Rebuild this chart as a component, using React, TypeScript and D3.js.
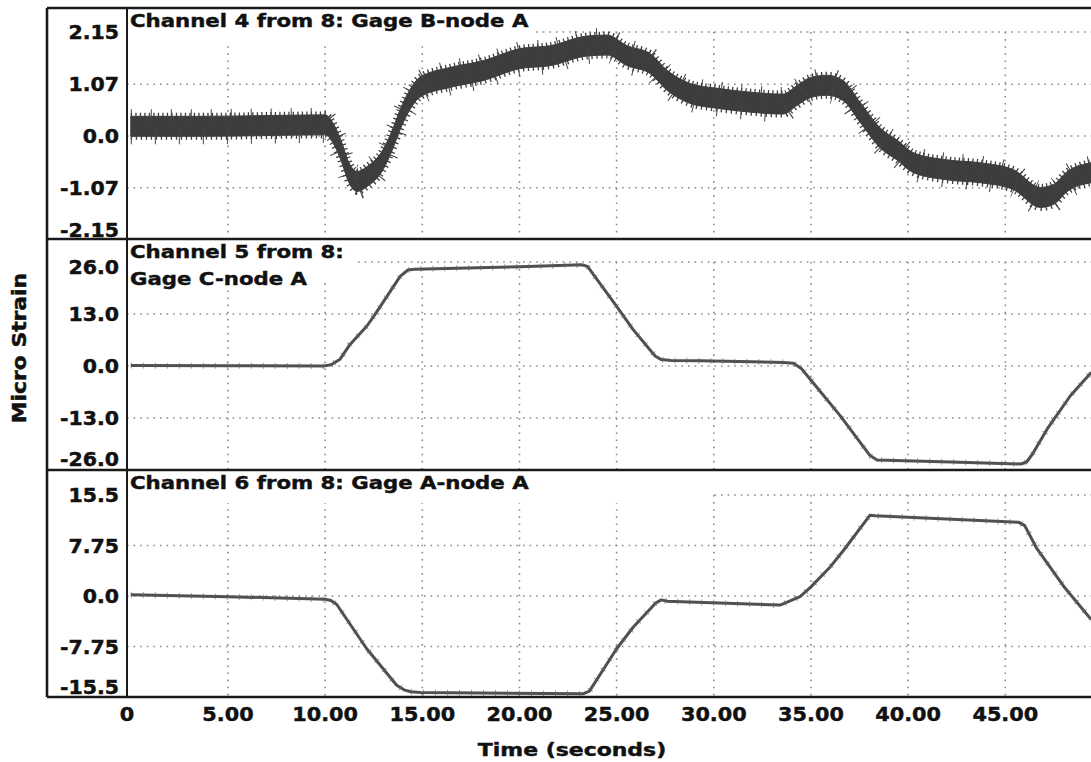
import React from 'react';
import * as d3 from 'd3';

// ---------- data ----------
const timeTicks = [0, 5, 10, 15, 20, 25, 30, 35, 40, 45];
const timeTickLabels = ['0', '5.00', '10.00', '15.00', '20.00', '25.00', '30.00', '35.00', '40.00', '45.00'];

// Channel 4 (Gage B-node A) – centre of the noisy band
const ch4Time = [0, 3.56, 7.68, 10.0, 10.41, 10.77, 11.28, 11.64, 12.15, 12.98, 13.44, 13.85, 14.36, 14.88, 16.42, 18.12, 20.03, 21.57, 23.48, 24.51, 25.54, 26.72, 27.6, 28.78, 30.17, 31.87, 33.57, 34.29, 34.96, 35.83, 36.65, 37.53, 38.56, 39.43, 40.26, 42.0, 43.71, 45.41, 46.8, 47.47, 48.19, 49.42];
const ch4Value = [0.2, 0.2, 0.22, 0.23, 0.06, -0.25, -0.8, -0.94, -0.84, -0.49, -0.1, 0.33, 0.75, 1.01, 1.21, 1.35, 1.6, 1.66, 1.86, 1.88, 1.66, 1.5, 1.15, 0.88, 0.78, 0.7, 0.66, 0.84, 1.0, 1.05, 0.94, 0.49, -0.04, -0.29, -0.55, -0.7, -0.76, -0.9, -1.27, -1.21, -0.94, -0.76];

// Channel 5 (Gage C-node A)
const ch5Time = [0, 5, 9.9, 10.3, 10.77, 11.28, 12.15, 12.57, 13.86, 14.26, 14.6, 20.03, 23.2, 23.5, 25.0, 25.85, 26.98, 27.3, 27.8, 29.3, 33.6, 34.1, 34.5, 34.96, 36.5, 38.04, 38.4, 42.2, 45.8, 46.1, 46.4, 47.15, 48.34, 49.42];
const ch5Value = [0.1, 0.05, 0.0, 0.3, 1.7, 5.4, 10.0, 12.9, 22.4, 24.0, 24.2, 24.8, 25.3, 24.9, 14.9, 9.1, 2.5, 1.6, 1.4, 1.3, 0.9, 0.7, -0.6, -3.3, -12.4, -22.4, -23.5, -24.0, -24.5, -24.0, -22.0, -15.8, -7.5, -1.6];

// Channel 6 (Gage A-node A)
const ch6Time = [0, 5, 10, 10.3, 10.6, 12.14, 13.68, 14.06, 14.4, 14.9, 23.3, 23.6, 25.0, 25.85, 27.0, 27.3, 27.6, 33.41, 34.44, 35.0, 36.0, 36.7, 38.04, 38.3, 45.7, 46.0, 46.6, 48.0, 49.42];
const ch6Value = [0.2, -0.1, -0.5, -0.7, -1.3, -8.1, -13.7, -14.4, -14.7, -14.8, -15.0, -14.6, -8.1, -4.8, -1.1, -0.6, -0.8, -1.4, -0.1, 1.4, 4.5, 7.1, 12.4, 12.3, 11.3, 10.8, 7.4, 1.5, -3.6];

const ch4Ticks = [2.15, 1.07, 0, -1.07, -2.15];
const ch4TickLabels = ['2.15', '1.07', '0.0', '-1.07', '-2.15'];
const ch5Ticks = [26, 13, 0, -13, -26];
const ch5TickLabels = ['26.0', '13.0', '0.0', '-13.0', '-26.0'];
const ch6Ticks = [15.5, 7.75, 0, -7.75, -15.5];
const ch6TickLabels = ['15.5', '7.75', '0.0', '-7.75', '-15.5'];

const ch4Title = ['Channel 4 from 8: Gage B-node A'];
const ch5Title = ['Channel 5 from 8:', 'Gage C-node A'];
const ch6Title = ['Channel 6 from 8: Gage A-node A'];

const yAxisTitle = 'Micro Strain';
const xAxisTitle = 'Time (seconds)';

// ---------- layout ----------
const W = 1091;
const H = 762;
const frameLeft = 47;
const axisX = 127;
const FONT = '"DejaVu Sans", "Liberation Sans", Arial, sans-serif';
const INK = '#111';

const xScale = d3.scaleLinear().domain([0, 45]).range([130.8, 1005.3]);

type Panel = {
  top: number;
  bottom: number;
  yRange: [number, number];
  max: number;
  ticks: number[];
  labels: string[];
  title: string[];
  time: number[];
  value: number[];
  band: boolean;
  insetTop: number;
  insetBottom: number;
  mask: [number, number];
};

const panels: Panel[] = [
  { top: 8, bottom: 238, yRange: [240, 32], max: 2.15, ticks: ch4Ticks, labels: ch4TickLabels, title: ch4Title, time: ch4Time, value: ch4Value, band: true, insetTop: 17, insetBottom: 8, mask: [535, 43] },
  { top: 239, bottom: 470, yRange: [470, 262], max: 26, ticks: ch5Ticks, labels: ch5TickLabels, title: ch5Title, time: ch5Time, value: ch5Value, band: false, insetTop: 28, insetBottom: 11, mask: [357, 283] },
  { top: 470, bottom: 697, yRange: [697, 495], max: 15.5, ticks: ch6Ticks, labels: ch6TickLabels, title: ch6Title, time: ch6Time, value: ch6Value, band: false, insetTop: 15, insetBottom: 10, mask: [712, 503] },
];

function Txt(props: { x: number; y: number; size: number; sx: number; anchor?: string; dy?: string; rotate?: number; children: React.ReactNode }) {
  const { x, y, size, sx, anchor = 'start', dy, rotate = 0, children } = props;
  return (
    <text
      transform={`translate(${x},${y}) rotate(${rotate}) scale(${sx},1)`}
      dy={dy}
      textAnchor={anchor}
      fontFamily={FONT}
      fontWeight="bold"
      fontSize={size}
      fill={INK}
      stroke={INK}
      strokeWidth={0.45}
    >
      {children}
    </text>
  );
}

function PanelView({ p, idx }: { p: Panel; idx: number }) {
  const y = d3.scaleLinear().domain([-p.max, p.max]).range(p.yRange);
  const pts: [number, number][] = p.time.map((t, i) => [t, p.value[i]]);
  const line = d3.line<[number, number]>().x((d) => xScale(d[0])).y((d) => y(d[1])).curve(d3.curveLinear);
  const path = line(pts) || '';
  const half = 10;
  const area = d3
    .area<[number, number]>()
    .x((d) => xScale(d[0]))
    .y0((d) => y(d[1]) + half)
    .y1((d) => y(d[1]) - half)
    .curve(d3.curveMonotoneX);
  const topEdge = d3.line<[number, number]>().x((d) => xScale(d[0])).y((d) => y(d[1]) - half).curve(d3.curveMonotoneX);
  const botEdge = d3.line<[number, number]>().x((d) => xScale(d[0])).y((d) => y(d[1]) + half).curve(d3.curveMonotoneX);
  const clipId = `clip-${idx}`;
  const gridTop = y(p.ticks[0]);
  const hTicks = p.ticks.filter((v) => y(v) < p.bottom - 3 && y(v) > p.top + 3);
  const vTicks = timeTicks.filter((t) => t > 0);
  return (
    <g>
      <defs>
        <clipPath id={clipId}>
          <rect x={axisX} y={p.top} width={W - axisX} height={p.bottom - p.top} />
        </clipPath>
      </defs>
      <g clipPath={`url(#${clipId})`}>
        {hTicks.map((v) => (
          <line key={'h' + v} x1={axisX} x2={W} y1={y(v)} y2={y(v)} stroke="#8a8a8a" strokeWidth={1.6} strokeDasharray="1.6 5" />
        ))}
        {vTicks.map((t) => (
          <line key={'v' + t} x1={xScale(t)} x2={xScale(t)} y1={gridTop} y2={p.bottom} stroke="#8a8a8a" strokeWidth={1.6} strokeDasharray="1.6 5.5" />
        ))}
        <rect x={axisX} y={p.top} width={p.mask[0] - axisX} height={p.mask[1] - p.top} fill="#fff" />
        {p.band ? (
          <g>
            <path d={area(pts) || ''} fill="#3d3d3d" stroke="#3d3d3d" strokeWidth={1} />
            <path d={topEdge(pts) || ''} fill="none" stroke="#3d3d3d" strokeWidth={7} strokeDasharray="1.3 3.2" />
            <path d={botEdge(pts) || ''} fill="none" stroke="#3d3d3d" strokeWidth={7} strokeDasharray="1.3 3.7" />
            <path d={topEdge(pts) || ''} fill="none" stroke="#444" strokeWidth={14} strokeDasharray="1 19" />
            <path d={botEdge(pts) || ''} fill="none" stroke="#444" strokeWidth={16} strokeDasharray="1 23" />
          </g>
        ) : (
          <g>
            <path d={path} fill="none" stroke="#505050" strokeWidth={3} strokeLinejoin="round" />
            <path d={path} fill="none" stroke="#606060" strokeWidth={6} strokeDasharray="1 11" opacity={0.6} />
          </g>
        )}
      </g>
      {p.title.map((s, i) => (
        <Txt key={s} x={130} y={p.top + 19 + i * 27} size={18.5} sx={1.15}>
          {s}
        </Txt>
      ))}
      {p.ticks.map((v, i) => {
        const cy = Math.min(Math.max(y(v), p.top + p.insetTop), p.bottom - p.insetBottom);
        return (
          <Txt key={'l' + v} x={119} y={cy} dy="0.36em" anchor="end" size={19.5} sx={1.05}>
            {p.labels[i]}
          </Txt>
        );
      })}
    </g>
  );
}

export default function App() {
  const bottom = panels[2].bottom;
  return (
    <svg width={W} height={H} style={{ position: 'absolute', left: 0, top: 0, background: '#fff' }}>
      <rect x={0} y={0} width={W} height={H} fill="#fff" />
      {panels.map((p, i) => (
        <PanelView key={i} p={p} idx={i} />
      ))}
      {/* frame */}
      {panels.map((p, i) => (
        <line key={'sep' + i} x1={frameLeft} x2={W} y1={p.top} y2={p.top} stroke="#1a1a1a" strokeWidth={2.6} />
      ))}
      <line x1={frameLeft} x2={W} y1={bottom} y2={bottom} stroke="#1a1a1a" strokeWidth={2.6} />
      <line x1={frameLeft} x2={frameLeft} y1={panels[0].top} y2={bottom} stroke="#1a1a1a" strokeWidth={2.6} />
      <line x1={axisX} x2={axisX} y1={panels[0].top} y2={bottom} stroke="#1a1a1a" strokeWidth={2} />
      {timeTicks.map((t, i) => (
        <Txt key={'x' + t} x={i === 0 ? axisX : xScale(t)} y={721} anchor="middle" size={20} sx={1.04}>
          {timeTickLabels[i]}
        </Txt>
      ))}
      <Txt x={572} y={756} anchor="middle" size={18} sx={1.22}>
        {xAxisTitle}
      </Txt>
      <Txt x={26} y={348} anchor="middle" size={19} sx={1.15} rotate={-90}>
        {yAxisTitle}
      </Txt>
    </svg>
  );
}
